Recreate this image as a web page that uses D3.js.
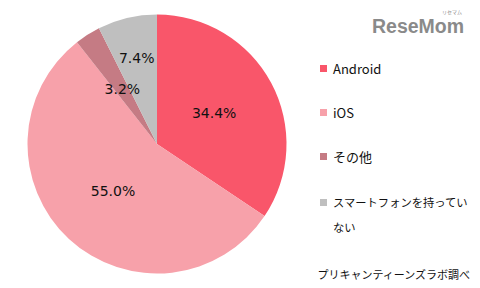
<!DOCTYPE html>
<html><head><meta charset="utf-8">
<script src="https://cdn.jsdelivr.net/npm/d3@7/dist/d3.min.js"></script>
<style>body{margin:0;background:#fff}svg{display:block}</style>
</head><body>
<svg id="c" width="480" height="288"></svg>
<script>
const categories = ["Android", "iOS", "その他", "スマートフォンを持っていない"];
const values = [34.4, 55.0, 3.2, 7.4];
const colors = ["#F9566A", "#F7A1AA", "#C57B84", "#BFBFBF"];
const source = "プリキャンティーンズラボ調べ";

const svg = d3.select("#c");
const font = "'Noto Sans CJK JP', 'DejaVu Sans', sans-serif";
const cx = 157, cy = 144, r = 129.5;
const pie = d3.pie().sort(null).value(d => d)(values);
const arc = d3.arc().innerRadius(0).outerRadius(r);
const g = svg.append("g").attr("transform", `translate(${cx},${cy})`);
g.selectAll("path").data(pie).enter().append("path")
  .attr("d", arc).attr("fill", (d, i) => colors[i]);
g.selectAll("text").data(pie).enter().append("text")
  .attr("transform", (d, i) => {
    const a = (d.startAngle + d.endAngle) / 2;
    const k = i === 3 ? 0.68 : 0.5;
    return `translate(${Math.sin(a) * r * k},${-Math.cos(a) * r * k})`;
  })
  .attr("text-anchor", "middle").attr("dy", "0.35em")
  .attr("font-family", "'DejaVu Sans', sans-serif").attr("font-size", 14).attr("fill", "#111")
  .text(d => d.value.toFixed(1) + "%");

// legend
const lg = svg.append("g");
const ly = [69, 113, 157, 203];
categories.forEach((c, i) => {
  lg.append("rect").attr("x", 320).attr("y", ly[i] - 4).attr("width", 7).attr("height", 7).attr("fill", colors[i]);
  const t = lg.append("text").attr("x", 333).attr("y", ly[i]).attr("dy", "0.35em")
    .attr("font-family", font).attr("font-size", i === 3 ? 11.3 : 13).attr("fill", "#111");
  if (i === 3) {
    t.text(c.slice(0, 12));
    lg.append("text").attr("x", 333).attr("y", ly[i] + 25).attr("dy", "0.35em")
      .attr("font-family", font).attr("font-size", 11.3).attr("fill", "#111").text(c.slice(12));
  } else t.text(c);
});

svg.append("text").attr("x", 470).attr("y", 275).attr("dy", "0.35em").attr("text-anchor", "end")
  .attr("font-family", font).attr("font-size", 11).attr("fill", "#111").text(source);

// logo
svg.append("text").attr("x", 372).attr("y", 33).attr("font-family", "'Liberation Sans', Arial, sans-serif")
  .attr("font-weight", "bold").attr("font-size", 19.5).attr("fill", "#8a8a8a").text("ReseMom");
svg.append("text").attr("x", 452).attr("y", 14).attr("font-family", font)
  .attr("font-size", 5).attr("fill", "#8a8a8a").attr("text-anchor", "middle").text("リセマム");
</script>
</body></html>
